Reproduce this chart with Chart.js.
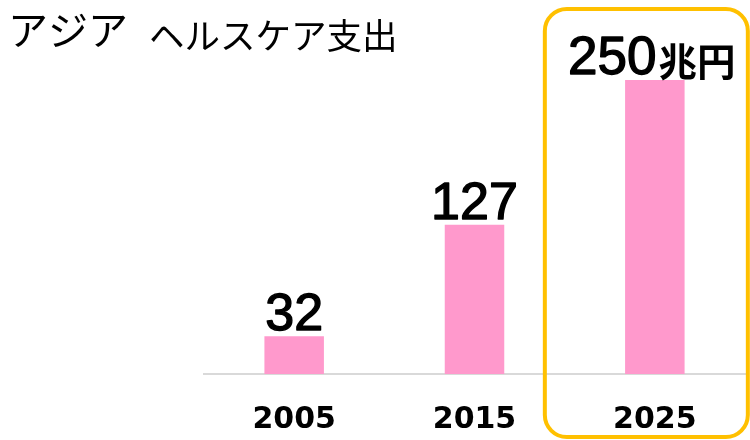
<!DOCTYPE html>
<html>
<head>
<meta charset="utf-8">
<script src="https://cdn.jsdelivr.net/npm/chart.js@4/dist/chart.umd.min.js"></script>
<style>
  html, body { margin: 0; padding: 0; background: #fff; }
  #wrap { width: 750px; height: 440px; position: relative; }
</style>
</head>
<body>
<div id="wrap"><canvas id="chart"></canvas></div>
<script>
// data
const years = ['2005', '2015', '2025'];
const spending = [32, 127, 250];
const valueLabels = ['32', '127', '250'];
const unitLabel = '兆円';
const titleMain = 'アジア';
const titleSub = 'ヘルスケア支出';

const barColor = '#FF99CC';
const highlightColor = '#FFC000';

// draw text a bit heavier than the regular face
function heavyText(ctx, text, x, y) {
    ctx.fillText(text, x, y);
    ctx.strokeText(text, x, y);
}

// title, value labels and the highlight box
const decorations = {
    id: 'decorations',
    afterDatasetsDraw(chart) {
        const ctx = chart.ctx;
        const meta = chart.getDatasetMeta(0);
        ctx.save();

        // title
        ctx.fillStyle = '#000';
        ctx.textBaseline = 'middle';
        ctx.textAlign = 'left';
        ctx.font = '40px "Noto Sans CJK JP"';
        ctx.fillText(titleMain, 8, 30);
        ctx.font = '35.5px "Noto Sans CJK JP"';
        ctx.fillText(titleSub, 149, 36);

        // values above bars
        ctx.textBaseline = 'alphabetic';
        ctx.strokeStyle = '#000';
        ctx.lineWidth = 1.4;
        ctx.lineJoin = 'round';
        meta.data.forEach((bar, i) => {
            const num = valueLabels[i];
            const y = bar.y - 6;
            if (i === valueLabels.length - 1) {
                ctx.font = '53px "Liberation Sans", Arial, sans-serif';
                const bigW = ctx.measureText(num).width;
                ctx.font = 'bold 38.5px "Noto Sans CJK JP"';
                const unitW = ctx.measureText(unitLabel).width;
                const start = bar.x - 3 - (bigW + unitW + 2) / 2;
                ctx.font = '53px "Liberation Sans", Arial, sans-serif';
                ctx.textAlign = 'left';
                heavyText(ctx, num, start, y);
                ctx.font = 'bold 38.5px "Noto Sans CJK JP"';
                ctx.fillText(unitLabel, start + bigW + 2, y + 2);
            } else {
                ctx.font = '52px "Liberation Sans", Arial, sans-serif';
                ctx.textAlign = 'center';
                heavyText(ctx, num, bar.x, y);
            }
        });

        // rounded box around the last year
        const cx = chart.scales.x.getPixelForValue(years.length - 1);
        const left = cx - 110, right = cx + 93;
        const top = 9, bottom = 437;
        ctx.strokeStyle = highlightColor;
        ctx.lineWidth = 4;
        ctx.beginPath();
        ctx.roundRect(left, top, right - left, bottom - top, 22);
        ctx.stroke();

        ctx.restore();
    }
};

new Chart(document.getElementById('chart'), {
    type: 'bar',
    data: {
        labels: years,
        datasets: [{
            data: spending,
            backgroundColor: barColor,
            borderWidth: 0,
            categoryPercentage: 1,
            barPercentage: 0.33
        }]
    },
    options: {
        responsive: true,
        maintainAspectRatio: false,
        animation: false,
        layout: { padding: { top: 80, left: 204, right: 5, bottom: -18 } },
        plugins: {
            legend: { display: false },
            tooltip: { enabled: false }
        },
        scales: {
            x: {
                grid: { display: false },
                border: { display: true, color: '#D9D9D9', width: 2 },
                ticks: {
                    color: '#000',
                    padding: 20,
                    font: { family: '"DejaVu Sans"', size: 30, weight: 'bold' }
                }
            },
            y: {
                display: false,
                min: 0,
                max: 250
            }
        }
    },
    plugins: [decorations]
});
</script>
</body>
</html>
